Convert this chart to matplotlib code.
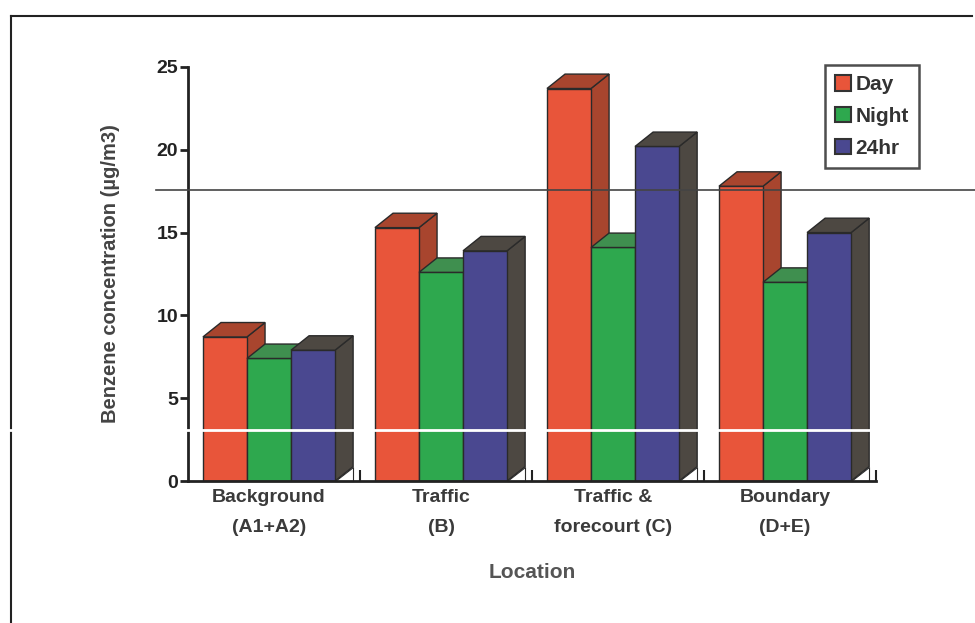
import matplotlib
matplotlib.use("Agg")
import matplotlib.pyplot as plt
from matplotlib.patches import Polygon, Patch
from matplotlib.lines import Line2D

# ---- data ----
categories = ["Background\n(A1+A2)", "Traffic\n(B)", "Traffic &\nforecourt (C)", "Boundary\n(D+E)"]
series_names = ["Day", "Night", "24hr"]
day = [8.7, 15.3, 23.7, 17.8]
night = [7.4, 12.6, 14.1, 12.0]
hr24 = [7.9, 13.9, 20.2, 15.0]
yticks = [0, 5, 10, 15, 20, 25]

front_colors = ["#e8553a", "#2ea84e", "#4a4890"]
top_colors = ["#a8452e", "#3f8f4f", "#4d4842"]
side_colors = ["#a8452e", "#3f8f4f", "#4d4842"]
edge = "#2a2a2a"

plt.rcParams["font.family"] = ["Liberation Sans", "DejaVu Sans"]
plt.rcParams["font.weight"] = "bold"

fig = plt.figure(figsize=(9.75, 6.23), dpi=100)
fig.patch.set_facecolor("white")
ax = fig.add_axes([0.1928, 0.2279, 0.7057, 0.6646])

bw = 0.256
start = 0.087
dx = 0.105
dy = 0.87

all_series = [day, night, hr24]
for gi in range(len(categories)):
    for si, vals in enumerate(all_series):
        x0 = gi + start + si * bw
        h = vals[gi]
        ax.bar(x0, h, width=bw, align="edge", color=front_colors[si],
               edgecolor=edge, linewidth=1.0, zorder=3 + gi * 10 + si * 3)
        # top face
        top = Polygon([(x0, h), (x0 + bw, h), (x0 + bw + dx, h + dy), (x0 + dx, h + dy)],
                      closed=True, facecolor=top_colors[si], edgecolor=edge,
                      linewidth=1.0, zorder=4 + gi * 10 + si * 3, clip_on=False)
        ax.add_patch(top)
        # side face
        side = Polygon([(x0 + bw, 0), (x0 + bw + dx, dy), (x0 + bw + dx, h + dy), (x0 + bw, h)],
                       closed=True, facecolor=side_colors[si], edgecolor=edge,
                       linewidth=1.0, zorder=2 + gi * 10 + si * 3, clip_on=False)
        ax.add_patch(side)
    # little white triangle at foot of the cluster
    xr = gi + start + 3 * bw
    tri = Polygon([(xr, 0), (xr + dx, 0), (xr + dx, dy)], closed=True,
                  facecolor="white", edgecolor=edge, linewidth=0.8,
                  zorder=5 + gi * 10 + 9, clip_on=False)
    ax.add_patch(tri)

ax.set_xlim(0, 4)
ax.set_ylim(0, 25)
for s in ["top", "right"]:
    ax.spines[s].set_visible(False)
for s in ["left", "bottom"]:
    ax.spines[s].set_linewidth(2.0)
    ax.spines[s].set_color("#222222")
    ax.spines[s].set_zorder(100)

ax.set_yticks(yticks)
ax.set_yticklabels([str(t) for t in yticks], fontsize=14, fontweight="bold", color="#222222")
ax.tick_params(axis="y", direction="out", length=6, width=2, color="#222222", pad=1)

ax.set_xticks([1, 2, 3, 4])
ax.set_xticklabels([])
ax.tick_params(axis="x", which="major", direction="in", length=8, width=1.5, color="#222222")
ax.set_xticks([g + start + 1.5 * bw for g in range(len(categories))], minor=True)
ax.set_xticklabels(categories, minor=True, fontsize=14, fontweight="bold",
                   color="#3a3a3a", linespacing=1.95)
ax.tick_params(axis="x", which="minor", length=0, pad=6)

ax.set_ylabel("Benzene concentration (µg/m3)", fontsize=14.5, fontweight="bold",
              color="#444444", labelpad=26)
ax.set_xlabel("Location", fontsize=15, fontweight="bold", color="#555555", labelpad=20)
ax.patch.set_alpha(0)

handles = [Patch(facecolor=front_colors[i], edgecolor="#333333", linewidth=1.5)
           for i in range(3)]
leg = fig.legend(handles, series_names, loc="upper right",
                 bbox_to_anchor=(0.9425, 0.896), frameon=True,
                 fancybox=False, handlelength=0.75, handleheight=0.75,
                 handletextpad=0.2, labelspacing=0.62, borderpad=0.5,
                 borderaxespad=0.0,
                 prop={"weight": "bold", "size": 15})
leg.get_frame().set_edgecolor("#222222")
leg.get_frame().set_linewidth(1.8)
for t in leg.get_texts():
    t.set_color("#333333")

# page frame (scanned page border)
fig.add_artist(Line2D([0.0113, 0.0113], [0.0, 0.974], color="#222222", lw=1.5))
fig.add_artist(Line2D([0.0113, 0.997], [0.974, 0.974], color="#222222", lw=1.5))
# scan artefacts
fig.add_artist(Line2D([0.16, 1.0], [0.695, 0.695], color="#444444", lw=1.2, zorder=200))
fig.add_artist(Line2D([0.0, 1.0], [0.309, 0.309], color="white", lw=2.0, zorder=200))

fig.savefig("out.png", dpi=100, facecolor="white")
